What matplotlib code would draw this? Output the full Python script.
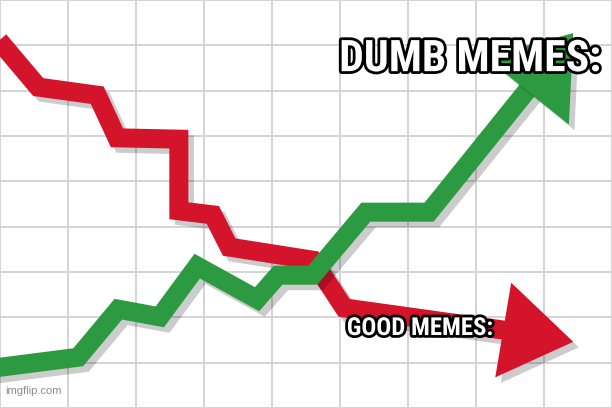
import matplotlib.pyplot as plt
import matplotlib.patheffects as pe
from matplotlib.patches import Polygon
from matplotlib.transforms import IdentityTransform
import numpy as np

# chart values in grid units (9 x 9 cells), last point of each series = arrow tip
red_x = [-0.2, 0.56, 1.43, 1.72, 2.63, 2.63, 3.13, 3.37, 4.60, 5.06, 7.40, 8.43]
red_y = [8.43, 7.08, 6.90, 5.96, 5.93, 4.35, 4.26, 3.55, 3.26, 2.21, 1.72, 1.46]
green_x = [-0.2, 1.15, 1.74, 2.35, 2.90, 3.78, 4.09, 4.60, 5.38, 6.31, 8.43]
green_y = [0.86, 1.12, 2.18, 2.01, 3.13, 2.40, 2.93, 2.93, 4.32, 4.32, 8.27]
top_label = "DUMB MEMES:"
bottom_label = "GOOD MEMES:"

RED = "#d3142b"
GREEN = "#2c9a41"
LW = 13.7
shadow = [pe.SimpleLineShadow(offset=(4, -4), shadow_color="k", alpha=0.2), pe.Normal()]


def arrow(ax, xs, ys, color, z, length=70, half=50):
    # head built in pixel space from the last two points
    p0 = ax.transData.transform((xs[-2], ys[-2]))
    tip = ax.transData.transform((xs[-1], ys[-1]))
    d = (tip - p0) / np.hypot(*(tip - p0))
    n = np.array([-d[1], d[0]])
    base = tip - d * length
    bx, by = ax.transData.inverted().transform(base + d * 4)
    ax.plot(list(xs[:-1]) + [bx], list(ys[:-1]) + [by], color=color, lw=LW,
            solid_joinstyle="miter", solid_capstyle="butt", zorder=z,
            path_effects=shadow)
    head = Polygon([tip, base + n * half, base - n * half], closed=True,
                   transform=IdentityTransform(), facecolor=color, edgecolor="none",
                   zorder=z + 0.5,
                   path_effects=[pe.SimplePatchShadow(offset=(4, -4), shadow_rgbFace="k", alpha=0.2), pe.Normal()])
    ax.add_patch(head)


fig = plt.figure(figsize=(6.12, 4.08), dpi=100)
ax = fig.add_axes([0, 0, 1, 1])
ax.set_xlim(0, 9)
ax.set_ylim(0, 9)
ax.set_xticks(np.arange(0, 10))
ax.set_yticks(np.arange(0, 10))
ax.grid(True, color="#d4d4d4", lw=1.4)
ax.tick_params(length=0, labelbottom=False, labelleft=False)
for s in ax.spines.values():
    s.set_visible(False)

arrow(ax, red_x, red_y, RED, 3, length=71, half=48)
arrow(ax, green_x, green_y, GREEN, 5, length=74, half=54)

outline = [pe.withStroke(linewidth=4, foreground="black")]
font = ["Roboto Condensed", "Liberation Sans Narrow", "Roboto", "DejaVu Sans"]
t1 = ax.text(0.768, 0.855, top_label, transform=ax.transAxes, ha="center", va="center",
             fontsize=30, fontweight="bold", family=font, color="white",
             path_effects=outline, zorder=10)
t2 = ax.text(0.686, 0.196, bottom_label, transform=ax.transAxes, ha="center", va="center",
             fontsize=18, fontweight="bold", family=font, color="white",
             path_effects=outline, zorder=10)
ax.text(0.008, 0.03, "imgflip.com", transform=ax.transAxes, ha="left", va="bottom",
        fontsize=8, family=["Liberation Sans", "DejaVu Sans"], color="#8c8c8c", zorder=10)

# shrink/grow the captions to the widths they take in the meme
fig.canvas.draw()
r = fig.canvas.get_renderer()
for t, w in [(t1, 262), (t2, 146)]:
    t.set_fontsize(t.get_fontsize() * w / t.get_window_extent(r).width)

fig.savefig("out.png", dpi=100)
